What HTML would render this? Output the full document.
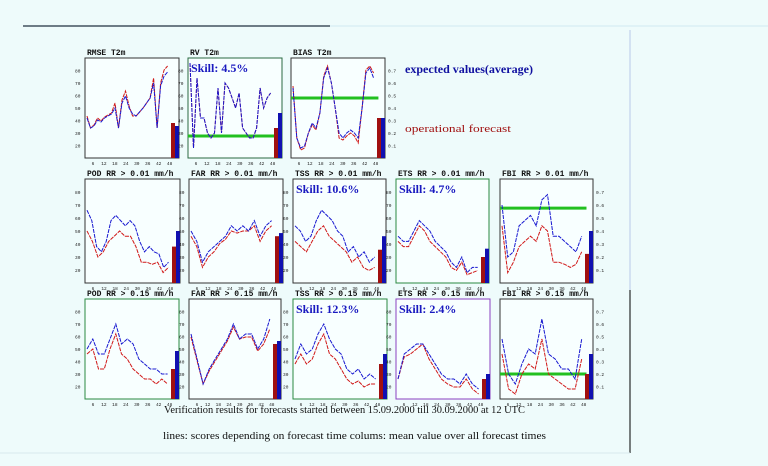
<!DOCTYPE html>
<html><head><meta charset="utf-8">
<style>
html,body{margin:0;padding:0;background:#eefbfb;}
svg{display:block}
text{font-family:"Liberation Mono",monospace;}
.sf{font-family:"Liberation Serif",serif;}
</style></head>
<body>
<svg id="s" width="768" height="466" viewBox="0 0 768 466" xmlns="http://www.w3.org/2000/svg">
<rect width="768" height="466" fill="#eefbfb"/>
<line x1="23" y1="26" x2="330" y2="26" stroke="#203040" stroke-width="1.2"/>
<line x1="330" y1="26" x2="768" y2="26" stroke="#d0e8f0" stroke-width="1"/>
<line x1="630" y1="290" x2="630" y2="453" stroke="#000" stroke-width="1"/>
<line x1="630" y1="30" x2="630" y2="290" stroke="#b8c8e8" stroke-width="1"/>
<line x1="0" y1="453" x2="630" y2="453" stroke="#d8e8ec" stroke-width="1"/>
<text class="sf" x="405" y="73" fill="#1010a0" font-size="12" font-weight="bold" textLength="128" lengthAdjust="spacingAndGlyphs">expected values(average)</text>
<text class="sf" x="405" y="132" fill="#a01010" font-size="11" textLength="106" lengthAdjust="spacingAndGlyphs">operational forecast</text>
<text class="sf" x="164" y="413" fill="#111" font-size="10.5" textLength="361" lengthAdjust="spacingAndGlyphs">Verification results for forecasts started between 15.09.2000 till 30.09.2000 at 12 UTC</text>
<text class="sf" x="163" y="439" fill="#111" font-size="10.5" textLength="383" lengthAdjust="spacingAndGlyphs">lines: scores depending on forecast time colums: mean value over all forecast times</text>
<g id="g"></g>
</svg>
<script>
var g=document.getElementById('g'),h='';
function P(x,y,w,hh,title,blue,red,o){
  o=o||{};
  h+='<rect x="'+x+'" y="'+y+'" width="'+w+'" height="'+hh+'" fill="#f8ffff" stroke="'+(o.fc||'#333')+'" stroke-width="1"/>';
  h+='<text x="'+(x+2)+'" y="'+(y-3)+'" font-size="8" font-weight="bold" fill="#111">'+title+'</text>';
  var lw=w*0.9;
  function line(d,c){var n=d.length,p=[];for(var i=0;i<n;i++){p.push((x+2+i*(lw-4)/(n-1)).toFixed(1)+','+(y+hh-d[i]*hh).toFixed(1));}
    h+='<polyline points="'+p.join(' ')+'" fill="none" stroke="'+c+'" stroke-width="1" stroke-dasharray="4,1"/>';}
  if(o.green!=null){h+='<line x1="'+x+'" x2="'+(x+w*0.93)+'" y1="'+(y+hh-o.green*hh)+'" y2="'+(y+hh-o.green*hh)+'" stroke="#22c020" stroke-width="3"/>';}
  line(red,'#d01818');line(blue,'#1818d0');
  var rb=o.rb||0.3,bb=o.bb||0.45;
  h+='<rect x="'+(x+w-8)+'" y="'+(y+hh-rb*hh)+'" width="4" height="'+(rb*hh)+'" fill="#a01010"/>';
  h+='<rect x="'+(x+w-4)+'" y="'+(y+hh-bb*hh)+'" width="4" height="'+(bb*hh)+'" fill="#1010b0"/>';
  if(o.skill)h+='<text class="sf" x="'+(x+3)+'" y="'+(y+14)+'" font-size="12" font-weight="bold" fill="#1a1ac0">'+o.skill+'</text>';
  var ticks=['6','12','18','24','30','36','42','48'];
  for(var i=0;i<8;i++)h+='<text x="'+(x+8+i*(lw-8)/7)+'" y="'+(y+hh+7)+'" font-size="4.5" fill="#222" text-anchor="middle">'+ticks[i]+'</text>';
  var ax=o.right?x+w+3:x-10;
  for(var j=1;j<8;j++)h+='<text x="'+ax+'" y="'+(y+hh-j*hh/8+2)+'" font-size="4.5" fill="#222">'+(o.right?'0.'+j:(10*j+10))+'</text>';
}
P(85,58,94,100,'RMSE T2m',
 [.4,.3,.32,.38,.36,.4,.42,.44,.5,.3,.55,.62,.5,.44,.42,.46,.5,.55,.6,.75,.3,.72,.82,.86],
 [.42,.3,.33,.4,.37,.41,.43,.45,.55,.3,.58,.67,.52,.42,.42,.46,.5,.55,.6,.8,.3,.75,.88,.92],{rb:.35,bb:.32});
P(188,58,94,100,'RV T2m',
 [.95,.1,.8,.4,.4,.25,.2,.25,.7,.25,.75,.7,.6,.5,.65,.3,.25,.2,.2,.3,.7,.5,.6,.65],
 [.95,.1,.8,.4,.4,.25,.2,.25,.7,.25,.75,.7,.6,.5,.65,.3,.25,.2,.2,.3,.7,.5,.6,.65],{skill:'Skill:  4.5%',green:.22,rb:0,bb:.45,fc:'#2a6a40'});
P(291,58,94,100,'BIAS T2m',
 [.7,.2,.1,.12,.25,.35,.3,.45,.8,.9,.75,.5,.25,.2,.25,.28,.25,.2,.5,.85,.9,.8],
 [.72,.2,.08,.1,.25,.33,.28,.45,.82,.92,.75,.5,.2,.18,.22,.25,.22,.15,.5,.88,.92,.85],{green:.6,rb:.4,bb:.4,right:1});
var r2=179,h2=104;
P(85,r2,95,h2,'POD RR &gt; 0.01 mm/h',
 [.7,.6,.35,.3,.4,.6,.65,.6,.55,.6,.55,.4,.3,.35,.3,.28,.15,.2],
 [.5,.4,.25,.3,.4,.45,.5,.45,.45,.35,.2,.2,.18,.2,.1,.15],{rb:.35,bb:.5});
P(189,r2,94,h2,'FAR RR &gt; 0.01 mm/h',
 [.5,.4,.2,.3,.35,.4,.45,.55,.5,.55,.5,.6,.45,.55,.6],
 [.45,.35,.15,.25,.3,.38,.42,.5,.48,.5,.5,.55,.4,.5,.55],{rb:.45,bb:.48});
P(293,r2,93,h2,'TSS RR &gt; 0.01 mm/h',
 [.55,.5,.4,.45,.6,.7,.65,.6,.5,.45,.3,.35,.25,.3,.2,.25],
 [.4,.35,.3,.4,.5,.55,.45,.4,.35,.3,.2,.25,.15,.12,.15],{skill:'Skill:  10.6%',rb:.32,bb:.45});
P(396,r2,93,h2,'ETS RR &gt; 0.01 mm/h',
 [.45,.4,.4,.5,.6,.55,.5,.4,.35,.3,.2,.15,.25,.1,.15,.15],
 [.4,.35,.35,.45,.55,.5,.4,.35,.3,.25,.15,.12,.2,.08,.1,.12],{skill:'Skill:  4.7%',rb:.25,bb:.33,fc:'#2a8a40'});
P(500,r2,93,h2,'FBI RR &gt; 0.01 mm/h',
 [.75,.25,.3,.55,.6,.65,.55,.8,.85,.45,.45,.4,.35,.3,.45],
 [.55,.1,.2,.35,.4,.45,.4,.55,.5,.2,.2,.18,.15,.18,.3],{green:.72,rb:.28,bb:.5,right:1});
var r3=299,h3=100;
P(85,r3,94,h3,'POD RR &gt; 0.15 mm/h',
 [.5,.6,.45,.45,.6,.75,.55,.6,.55,.4,.35,.3,.3,.25,.25],
 [.45,.5,.3,.3,.5,.65,.45,.4,.3,.25,.2,.2,.15,.2,.15],{rb:.3,bb:.48,fc:'#2a8a40'});
P(189,r3,92,h3,'FAR RR &gt; 0.15 mm/h',
 [.65,.4,.15,.3,.4,.5,.6,.75,.6,.65,.65,.5,.6,.8],
 [.62,.38,.15,.28,.38,.48,.58,.72,.6,.62,.62,.48,.55,.7],{rb:.55,bb:.58});
P(293,r3,94,h3,'TSS RR &gt; 0.15 mm/h',
 [.4,.55,.45,.5,.65,.75,.6,.5,.45,.3,.25,.3,.2,.25,.2],
 [.35,.45,.35,.4,.55,.65,.45,.4,.3,.2,.15,.18,.12,.15,.15],{skill:'Skill:  12.3%',rb:.35,bb:.45,fc:'#2a8a40'});
P(396,r3,94,h3,'ETS RR &gt; 0.15 mm/h',
 [.2,.45,.5,.55,.55,.45,.35,.25,.2,.2,.15,.25,.15,.1],
 [.2,.42,.45,.5,.55,.4,.3,.2,.15,.12,.12,.2,.1,.05],{skill:'Skill:  2.4%',rb:.2,bb:.25,fc:'#8a40c0'});
P(500,r3,93,h3,'FBI RR &gt; 0.15 mm/h',
 [.6,.25,.15,.35,.5,.45,.8,.45,.4,.3,.3,.2,.6],
 [.45,.1,.05,.25,.35,.3,.6,.25,.2,.15,.1,.1,.4],{green:.25,rb:.25,bb:.45,right:1});
g.innerHTML=h;
</script>
</body></html>
